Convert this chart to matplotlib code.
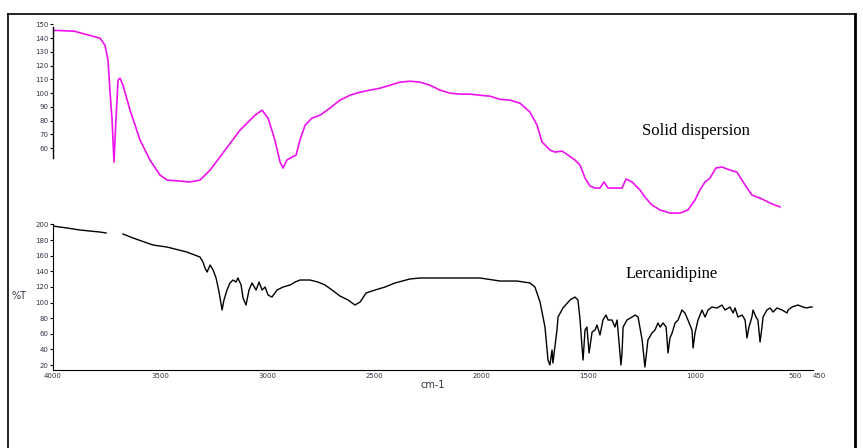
import numpy as np
import matplotlib
matplotlib.use('Agg')
import matplotlib.pyplot as plt
from matplotlib.lines import Line2D

# Solid dispersion (upper trace)
sd_wn = [4000, 3900, 3780, 3757, 3743, 3734, 3724, 3715, 3706, 3696, 3687, 3673,
         3640, 3593, 3547, 3500, 3467, 3407, 3360, 3313, 3266, 3196, 3126, 3056,
         3023, 2995, 2963, 2939, 2925, 2907, 2883, 2864, 2846, 2822, 2790, 2752,
         2706, 2659, 2612, 2565, 2519, 2472, 2425, 2378, 2332, 2285, 2238, 2192,
         2145, 2098, 2051, 2005, 1958, 1911, 1864, 1818, 1771, 1738, 1715, 1677,
         1654, 1621, 1593, 1561, 1537, 1514, 1491, 1467, 1444, 1425, 1406, 1374,
         1341, 1322, 1294, 1257, 1234, 1201, 1163, 1117, 1070, 1033, 1000, 977,
         953, 930, 902, 874, 836, 804, 766, 734, 696, 649, 603]
sd_t = [145.8, 145.1, 140, 134.9, 124, 102.2, 80.4, 49.8, 80.4, 109.5, 110.9, 105.8,
        87.6, 65.8, 51.3, 40.4, 36.7, 36.0, 35.3, 36.7, 44, 58.5, 73.1, 84,
        87.6, 81.8, 65.8, 49.8, 45.5, 51.3, 53.5, 54.9, 65.8, 76.7, 81.8, 84,
        89.1, 94.9, 98.5, 100.7, 102.2, 103.6, 105.8, 108, 108.7, 108, 105.8, 102.2,
        100, 99.3, 99.3, 98.5, 97.8, 95.5, 94.9, 92.7, 86.2, 76.7, 64.5, 58.5,
        57.1, 57.8, 54.9, 51.3, 47.6, 38.2, 32.4, 30.9, 30.9, 35.3, 30.9, 30.9,
        30.9, 37.5, 35.3, 29.5, 24.4, 18.5, 14.9, 12.7, 12.7, 14.9, 22.2, 29.5,
        35.3, 38.2, 45.5, 46.2, 44, 42.5, 33.1, 25.8, 23.6, 20, 17.1]

# Lercanidipine (lower trace), nan = gap in the scanned line
ler_wn = [4000, 3935, 3874, 3780, 3752, np.nan, 3673, 3626, 3533, 3467, 3374, 3313,
          3299, 3290, 3280, 3266, 3252, 3238, 3224, 3210, 3201, 3187, 3173, 3159,
          3145, 3136, 3121, 3112, 3098, 3084, 3070, 3051, 3037, 3023, 3009, 2995,
          2977, 2953, 2925, 2892, 2869, 2846, 2799, 2762, 2729, 2696, 2659, 2621,
          2589, 2565, 2537, 2495, 2449, 2402, 2332, 2285, 2192, 2098, 2005, 1911,
          1832, 1771, 1748, 1724, 1701, 1687, 1678, 1668, 1664, 1645, 1640, 1617,
          1584, 1561, 1547, 1537, 1528, 1523, 1514, 1505, 1495, 1481, 1467, 1458,
          1444, 1430, 1416, 1406, 1388, 1374, 1364, 1346, 1341, 1336, 1318, 1294,
          1280, 1266, 1247, 1234, 1220, 1201, 1187, 1173, 1163, 1149, 1135, 1131,
          1126, 1117, 1107, 1093, 1079, 1061, 1047, 1033, 1014, 1009, 1000, 986,
          967, 953, 939, 921, 897, 874, 860, 836, 822, 813, 799, 780,
          766, 757, 748, 734, 729, 715, 706, 696, 687, 682, 664, 649,
          635, 617, 593, 570, 565, 547, 519, 495, 477, 463, 453]
ler_t = [197.9, 195.4, 192.8, 190.2, 189, np.nan, 187.7, 182.6, 173.6, 171, 164.6, 158.2,
         151.8, 144.2, 139, 148, 141.6, 131.4, 113.4, 90.4, 103.2, 116, 125, 128.8,
         126.2, 131.4, 122.4, 105.8, 96.8, 116, 125, 116, 126.2, 116, 119.8, 109.6,
         107, 116, 119.8, 122.4, 126.2, 128.8, 128.8, 126.2, 122.4, 116, 108.3, 103.2,
         96.8, 100.6, 112.2, 116, 119.8, 125, 130.1, 131.4, 131.4, 131.4, 131.4, 127.5,
         127.5, 125, 119.8, 100.6, 68.6, 26.4, 20, 39.2, 22.6, 64.8, 81.4, 93,
         103.2, 107, 103.2, 77.6, 43, 26.4, 64.8, 68.6, 35.4, 62.2, 64.8, 71.2,
         58.4, 77.6, 84, 77.6, 77.6, 68.6, 77.6, 20, 35.4, 68.6, 77.6, 81.4,
         84, 81.4, 52, 17.4, 52, 61, 64.8, 73.8, 68.6, 73.8, 68.6, 54.6,
         35.4, 54.6, 61, 73.8, 77.6, 90.4, 86.6, 77.6, 64.8, 41.8, 61, 77.6,
         90.4, 81.4, 90.4, 94.2, 93, 96.8, 90.4, 94.2, 86.6, 93, 81.4, 84,
         77.6, 54.6, 68.6, 81.4, 90.4, 81.4, 77.6, 49.4, 68.6, 81.4, 90.4, 93,
         87.8, 93, 90.4, 86.6, 90.4, 94.2, 96.8, 94.2, 93, 94.2, 94.2]

x_ticks = [4000, 3500, 3000, 2500, 2000, 1500, 1000, 500, 450]
x_labels = ['4000', '3500', '3000', '2500', '2000', '1500', '1000', '500', '450']
upper_ticks = [60, 70, 80, 90, 100, 110, 120, 130, 140, 150]
lower_ticks = [20, 40, 60, 80, 100, 120, 140, 160, 180, 200]

W, H = 863, 448
fig = plt.figure(figsize=(W / 100, H / 100), dpi=100)
fig.patch.set_facecolor('white')

tick_col = '#333344'
left = 53 / W
width = (812.7 - 53) / W

# upper panel
ax1 = fig.add_axes([left, 1 - 216.75 / H, width, (216.75 - 24.5) / H])
ax1.plot(sd_wn, sd_t, color='#ee11ee', lw=1.2)
ax1.set_xlim(4000, 450)
ax1.set_ylim(10, 150)
for s in ['top', 'right', 'bottom']:
    ax1.spines[s].set_visible(False)
ax1.spines['left'].set_bounds(53, 148)
ax1.spines['left'].set_linewidth(1.0)
ax1.set_xticks([])
ax1.set_yticks(upper_ticks)
ax1.tick_params(axis='y', length=2, width=0.8, pad=1, labelsize=5, labelcolor=tick_col)
ax1.patch.set_alpha(0)

# lower panel
ax2 = fig.add_axes([left, 1 - 370 / H, width, (370 - 224.4) / H])
ax2.plot(ler_wn, ler_t, color='black', lw=1.0)
ax2.set_xlim(4000, 450)
ax2.set_ylim(13.6, 200)
for s in ['top', 'right']:
    ax2.spines[s].set_visible(False)
ax2.set_xticks(x_ticks)
ax2.set_xticklabels(x_labels)
ax2.set_yticks(lower_ticks)
ax2.tick_params(axis='y', length=2, width=0.8, pad=1, labelsize=5, labelcolor=tick_col)
ax2.tick_params(axis='x', length=0, pad=2, labelsize=5, labelcolor=tick_col)
xt = ax2.get_xticklabels()
xt[-2].set_ha('right')
xt[-1].set_ha('left')
ax2.set_xlabel('cm-1', fontsize=7, color=tick_col, labelpad=1)
ax2.patch.set_alpha(0)

fig.text(19 / W, 1 - 296 / H, '%T', fontsize=7, color=tick_col, ha='center', va='center')
fig.text(696 / W, 1 - 131 / H, 'Solid dispersion', fontsize=12,
         family='Liberation Serif', ha='center', va='center')
fig.text(672 / W, 1 - 274 / H, 'Lercanidipine', fontsize=12,
         family='Liberation Serif', ha='center', va='center')

# outer frame (bottom edge is off the page)
fx0, fx1, fy = 7.5 / W, 855 / W, 1 - 14 / H
fig.add_artist(Line2D([fx0, fx0], [0, fy], color='black', lw=1.2, transform=fig.transFigure))
fig.add_artist(Line2D([fx0, fx1], [fy, fy], color='black', lw=1.2, transform=fig.transFigure))
fig.add_artist(Line2D([fx1, fx1], [0, fy], color='black', lw=2.0, transform=fig.transFigure))

fig.savefig('out.png', dpi=100)
